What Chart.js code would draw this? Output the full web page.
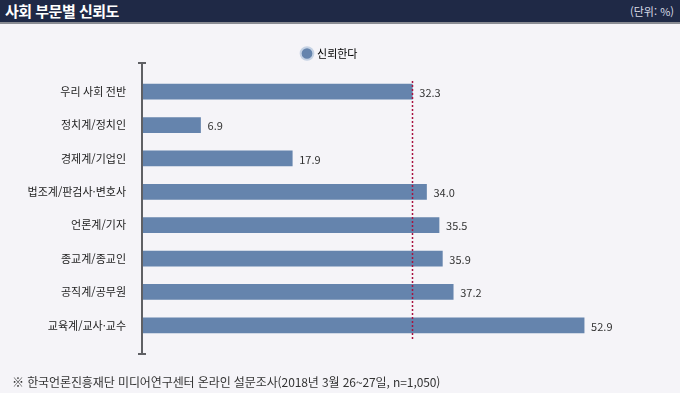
<!DOCTYPE html>
<html lang="ko">
<head>
<meta charset="utf-8">
<script src="https://cdn.jsdelivr.net/npm/chart.js@4/dist/chart.umd.min.js"></script>
<style>
  body { margin: 0; width: 680px; height: 393px; background: #f5f4f8; overflow: hidden;
         font-family: "Noto Sans CJK KR", "Noto Sans", sans-serif; position: relative; }
  .head { position: absolute; left: 0; top: 0; width: 680px; height: 22px; background: #1f2946;
          border-bottom: 2px solid #8a8c93; }
  .head .title { position: absolute; left: 5px; top: 1px; color: #fff; font-size: 15px; font-weight: bold;
                 line-height: 20px; letter-spacing: -0.5px; }
  .head .unit { position: absolute; right: 6px; top: 3px; color: #d8dbe6; font-size: 11px; line-height: 16px; }
  .foot { position: absolute; left: 12px; top: 374px; color: #333; font-size: 12px; line-height: 16px;
          letter-spacing: -0.1px; }
  #wrap { position: absolute; left: 0; top: 0; width: 680px; height: 393px; }
</style>
</head>
<body>
<div class="head"><span class="title">사회 부문별 신뢰도</span><span class="unit">(단위: %)</span></div>
<div id="wrap"><canvas id="barChart"></canvas></div>
<div class="foot">※ 한국언론진흥재단 미디어연구센터 온라인 설문조사(2018년 3월 26~27일, n=1,050)</div>
<script>
// chart data
const categories = ["우리 사회 전반", "정치계/정치인", "경제계/기업인", "법조계/판검사·변호사",
  "언론계/기자", "종교계/종교인", "공직계/공무원", "교육계/교사·교수"];
const trustValues = [32.3, 6.9, 17.9, 34.0, 35.5, 35.9, 37.2, 52.9];
const seriesName = "신뢰한다";
const averageValue = 32.3;

const FONT = '"Noto Sans CJK KR", "Noto Sans", sans-serif';

// axis line with end caps + dotted average line
const guides = {
  id: "guides",
  beforeDatasetsDraw(chart) {
    const { ctx, chartArea } = chart;
    const x = chartArea.left - 1;
    ctx.save();
    ctx.strokeStyle = "#5f6064";
    ctx.lineWidth = 2;
    ctx.beginPath();
    ctx.moveTo(x, chartArea.top - 12);
    ctx.lineTo(x, chartArea.bottom + 12);
    ctx.moveTo(x - 4, chartArea.top - 12);
    ctx.lineTo(x + 4, chartArea.top - 12);
    ctx.moveTo(x - 4, chartArea.bottom + 12);
    ctx.lineTo(x + 4, chartArea.bottom + 12);
    ctx.stroke();
    ctx.restore();
  },
  afterDatasetsDraw(chart) {
    const { ctx, chartArea, scales } = chart;
    const ax = Math.round(scales.x.getPixelForValue(averageValue)) + 0.5;
    ctx.save();
    ctx.strokeStyle = "#a8123f";
    ctx.lineWidth = 1.5;
    ctx.setLineDash([2, 2]);
    ctx.beginPath();
    ctx.moveTo(ax, chartArea.top + 6);
    ctx.lineTo(ax, chartArea.bottom - 3);
    ctx.stroke();
    ctx.restore();

    // value labels
    const meta = chart.getDatasetMeta(0);
    ctx.save();
    ctx.font = "11px " + FONT;
    ctx.fillStyle = "#333";
    ctx.textBaseline = "middle";
    meta.data.forEach((bar, i) => {
      ctx.fillText(trustValues[i].toFixed(1), bar.x + 7, bar.y + 1);
    });
    ctx.restore();
  }
};

new Chart(document.getElementById("barChart"), {
  type: "bar",
  data: {
    labels: categories,
    datasets: [{
      label: seriesName,
      data: trustValues,
      backgroundColor: "#6584ad",
      borderWidth: 0,
      barThickness: 15
    }]
  },
  options: {
    indexAxis: "y",
    responsive: true,
    maintainAspectRatio: false,
    animation: false,
    layout: { padding: { left: 0, right: 20, top: 42, bottom: 51 } },
    plugins: {
      legend: {
        display: true,
        position: "top",
        labels: {
          usePointStyle: true,
          pointStyle: "circle",
          boxWidth: 9,
          boxHeight: 9,
          padding: 6,
          color: "#333",
          font: { family: FONT, size: 11 },
          generateLabels() {
            return [{ text: seriesName, fillStyle: "#6584ad", strokeStyle: "#c5d2e4",
                      lineWidth: 2, pointStyle: "circle", datasetIndex: 0 }];
          }
        }
      },
      // empty spacer between legend and bars
      subtitle: { display: true, text: "", weight: 500, padding: 0, font: { size: 6, lineHeight: 1 } },
      tooltip: { enabled: false }
    },
    scales: {
      x: { display: false, min: 0, max: 62 },
      y: {
        grid: { display: false, drawTicks: false },
        border: { display: false },
        ticks: { color: "#222", padding: 17, font: { family: FONT, size: 11 } },
        afterFit(scale) { scale.width = 143; }
      }
    }
  },
  plugins: [guides]
});
</script>
</body>
</html>
